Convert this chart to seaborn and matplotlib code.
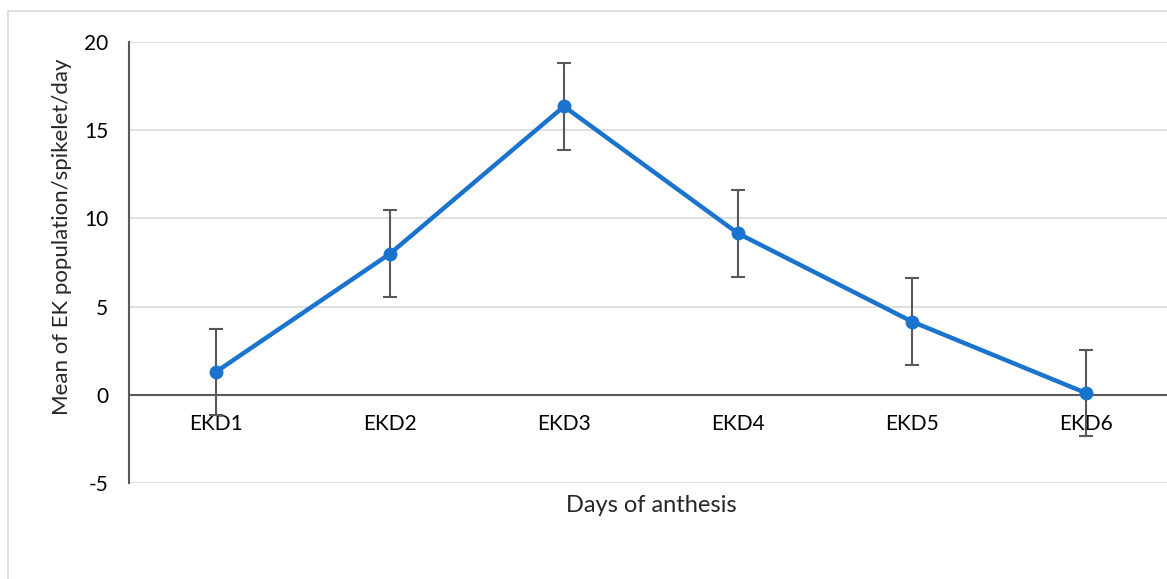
import matplotlib
matplotlib.use("Agg")
import matplotlib.pyplot as plt
import seaborn as sns
import pandas as pd
import numpy as np
from matplotlib.patches import Rectangle

categories = ["EKD1", "EKD2", "EKD3", "EKD4", "EKD5", "EKD6"]
means = [1.3, 8.0, 16.35, 9.15, 4.15, 0.1]
errors = [2.45, 2.45, 2.45, 2.45, 2.45, 2.45]
yticks = [-5, 0, 5, 10, 15, 20]

sns.set_theme(style="white")
plt.rcParams['font.family'] = ['Lato', 'DejaVu Sans']

fig = plt.figure(figsize=(11.67, 5.79), dpi=100)
# outer chart border
fig.patches.append(Rectangle((8/1167, -0.1), 1.2, (579-11)/579 + 0.1, transform=fig.transFigure,
                             fill=False, edgecolor="#d9d9d9", linewidth=1.2))

left = 129/1167
right = 1173/1167
top = 1 - 42/579
bottom = 1 - 483/579
ax = fig.add_axes([left, bottom, right - left, top - bottom])

df = pd.DataFrame({"day": categories, "mean": means, "err": errors})
df["x"] = np.arange(len(categories))

ax.errorbar(df["x"], df["mean"], yerr=df["err"], fmt="none", ecolor="#595959",
            elinewidth=1.5, capsize=5, capthick=1.5, zorder=3)
sns.lineplot(data=df, x="x", y="mean", ax=ax, color="#1a73cc", linewidth=3.2,
             marker="o", markersize=10, markeredgewidth=0, zorder=4)

for s in ["top", "right"]:
    ax.spines[s].set_visible(False)
ax.spines["bottom"].set_position(("data", 0))
ax.spines["bottom"].set_color("#595959")
ax.spines["bottom"].set_linewidth(1.5)
ax.spines["left"].set_color("#595959")
ax.spines["left"].set_linewidth(1.5)

ax.set_xlim(-0.5, len(categories) - 0.5)
ax.set_ylim(-5, 20)
ax.set_yticks(yticks)
ax.set_yticklabels([str(t) for t in yticks])
ax.set_xticks(df["x"])
ax.set_xticklabels(categories)

for t in yticks:
    if t != 0:
        ax.axhline(t, color="#d9d9d9", linewidth=1.2, zorder=0)

ax.tick_params(axis="both", length=0, colors="black", labelsize=15)
ax.tick_params(axis="y", pad=15)
ax.tick_params(axis="x", pad=14)

ax.set_ylabel("Mean of EK population/spikelet/day", fontsize=16)
ax.yaxis.set_label_coords((72 - 129) / 1044, (483 - 236.5) / 441)
ax.set_xlabel("")
fig.text(651/1167, 1 - 505/579, "Days of anthesis", ha="center", va="center", fontsize=17)

fig.savefig("out.png", dpi=100)
